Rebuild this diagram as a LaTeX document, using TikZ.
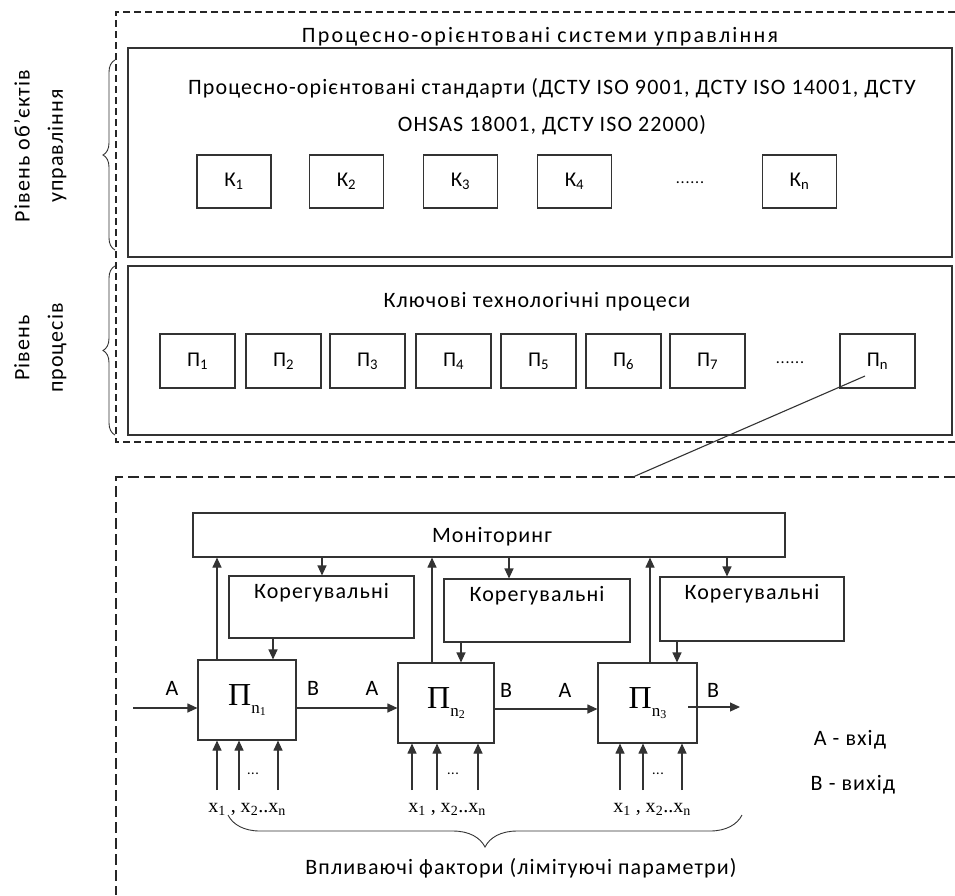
\documentclass[tikz,border=0pt]{standalone}
\usepackage{fontspec}
\setmainfont{Carlito}[LetterSpace=5]
\newfontfamily\titlefont{Carlito}[LetterSpace=10]
\newfontfamily\serifx{Liberation Serif}
\usetikzlibrary{arrows.meta,decorations.pathreplacing}
\tikzset{
  ln/.style={draw=black!80,line width=1.1pt},
  bx/.style={ln,rectangle,inner sep=0pt},
  dsh/.style={draw=black!85,line width=1.1pt,dash pattern=on 7pt off 4pt},
  dshb/.style={draw=black!85,line width=1.1pt,dash pattern=on 11pt off 5pt},
  arr/.style={ln,-{Triangle[length=10pt,width=9pt]}},
  txt/.style={font=\fontsize{22}{26}\selectfont,inner sep=0pt},
  brc/.style={ln,line width=0.9pt,decorate},
}
\newcommand{\bigP}[1]{{\serifx\fontsize{32}{34}\selectfont П\raisebox{-8pt}{\fontsize{17}{17}\selectfont n\raisebox{-2pt}{\fontsize{12}{12}\selectfont #1}}}}
\newcommand{\xlab}{x\textsubscript{1} , x\textsubscript{2}..x\textsubscript{n}}
\begin{document}
\begin{tikzpicture}[x=1pt,y=-1pt]
\useasboundingbox[fill=white] (0,0) rectangle (955,895);
% dashed frames
\draw[dsh] (955,12) -- (116,12) -- (116,442) -- (955,442);
\draw[dshb] (955,477) -- (116,477) -- (116,895);
\node[txt,font=\titlefont\fontsize{22}{26}\selectfont] (title) at (540,37) {Процесно-орієнтовані системи управління};
% level 1
\node[bx,minimum width=824pt,minimum height=209pt] (lvl1) at (540,152.5) {};
\node[txt] (std1) at (552,88) {Процесно-орієнтовані стандарти (ДСТУ ISO 9001, ДСТУ ISO 14001, ДСТУ};
\node[txt] (std2) at (552,125) {OHSAS 18001, ДСТУ ISO 22000)};
\tikzset{kb/.style={bx,minimum width=74pt,minimum height=53pt,font=\fontsize{21}{24}\selectfont}}
\node[kb] (k1) at (234,181.5) {К\textsubscript{1}\hspace{10pt}};
\node[kb] (k2) at (346.5,181.5) {К\textsubscript{2}\hspace{10pt}};
\node[kb] (k3) at (460.5,181.5) {К\textsubscript{3}\hspace{10pt}};
\node[kb] (k4) at (574.5,181.5) {К\textsubscript{4}\hspace{10pt}};
\node[txt,font=\fontsize{16}{18}\selectfont] (kdots) at (690,183) {......};
\node[kb] (kn) at (799.5,181.5) {К\textsubscript{n}\hspace{10pt}};
% level 2
\node[bx,minimum width=824pt,minimum height=169pt] (lvl2) at (540,350.5) {};
\node[txt] (ktp) at (537,302) {Ключові технологічні процеси};
\tikzset{pb/.style={bx,minimum width=75pt,minimum height=54pt,font=\fontsize{21}{24}\selectfont}}
\node[pb] (p1) at (197.5,361) {П\textsubscript{1}\hspace{10pt}};
\node[pb] (p2) at (283.5,361) {П\textsubscript{2}\hspace{10pt}};
\node[pb] (p3) at (367.5,361) {П\textsubscript{3}\hspace{10pt}};
\node[pb] (p4) at (453.5,361) {П\textsubscript{4}\hspace{10pt}};
\node[pb] (p5) at (538.5,361) {П\textsubscript{5}\hspace{10pt}};
\node[pb] (p6) at (623.5,361) {П\textsubscript{6}\hspace{10pt}};
\node[pb] (p7) at (707.5,361) {П\textsubscript{7}\hspace{10pt}};
\node[txt,font=\fontsize{16}{18}\selectfont] (pdots) at (790,363) {......};
\node[pb] (pn) at (877.5,361) {П\textsubscript{n}\hspace{10pt}};
\coordinate (pnin) at (865,376);
\coordinate (zoomend) at (633,477);
\draw[ln] (pnin) -- (zoomend);
% side labels and braces
\coordinate (b1t) at (115,60); \coordinate (b1b) at (115,250);
\coordinate (b2t) at (115,266); \coordinate (b2b) at (115,435);
\draw[brc,decoration={brace,amplitude=12pt}] (b1b) -- (b1t);
\draw[brc,decoration={brace,amplitude=12pt}] (b2b) -- (b2t);
\node[txt,rotate=90] (lab1a) at (22,146) {Рівень об’єктів};
\node[txt,rotate=90] (lab1b) at (57,146) {управління};
\node[txt,rotate=90] (lab2a) at (22,348) {Рівень};
\node[txt,rotate=90] (lab2b) at (57,348) {процесів};
% lower part
\node[bx,minimum width=592pt,minimum height=44pt] (mon) at (489,535) {};
\node[txt] (montxt) at (492,537) {Моніторинг};
\node[bx,minimum width=185pt,minimum height=62pt] (kor1) at (321.5,607) {};
\node[bx,minimum width=186pt,minimum height=63pt] (kor2) at (537,610.5) {};
\node[bx,minimum width=184pt,minimum height=64pt] (kor3) at (752,609) {};
\node[txt,anchor=north] (kor1t) at ([yshift=-8pt]kor1.north) {Корегувальні};
\node[txt,anchor=north] (kor2t) at ([yshift=-8pt]kor2.north) {Корегувальні};
\node[txt,anchor=north] (kor3t) at ([yshift=-8pt]kor3.north) {Корегувальні};
\tikzset{pnb/.style={bx,minimum height=80pt}}
\node[pnb,minimum width=98pt] (q1) at (247,700) {\bigP{1}};
\node[pnb,minimum width=96pt] (q2) at (446,703) {\bigP{2}};
\node[pnb,minimum width=99pt] (q3) at (647.5,703) {\bigP{3}};
% up arrows to monitoring
\coordinate (u1) at (217,660); \coordinate (u2) at (432,663); \coordinate (u3) at (650,663);
\draw[arr] (u1) -- (u1 |- mon.south);
\draw[arr] (u2) -- (u2 |- mon.south);
\draw[arr] (u3) -- (u3 |- mon.south);
% monitoring to correcting
\coordinate (d1) at (322,557); \coordinate (d2) at (509,557); \coordinate (d3) at (727,557);
\draw[arr] (d1) -- (d1 |- kor1.north);
\draw[arr] (d2) -- (d2 |- kor2.north);
\draw[arr] (d3) -- (d3 |- kor3.north);
% correcting to processes
\coordinate (c1) at (273,638); \coordinate (c2) at (461,642); \coordinate (c3) at (677,641);
\draw[arr] (c1) -- (c1 |- q1.north);
\draw[arr] (c2) -- (c2 |- q2.north);
\draw[arr] (c3) -- (c3 |- q3.north);
% horizontal flow
\coordinate (inA) at (133,708);
\coordinate (outB) at (688,707);
\coordinate (outE) at (740,707);
\draw[arr] (inA) -- (inA -| q1.west);
\coordinate (h1) at (296,708);
\draw[arr] (h1) -- (h1 -| q2.west);
\coordinate (h2) at (494,709);
\draw[arr] (h2) -- (h2 -| q3.west);
\draw[arr] (outB) -- (outE);
\node[txt] (la1) at (172,688) {A};
\node[txt] (lb1) at (313,688) {B};
\node[txt] (la2) at (372,688) {A};
\node[txt] (lb2) at (506,690) {B};
\node[txt] (la3) at (565,690) {A};
\node[txt] (lb3) at (713,690) {B};
% factor inputs
\foreach \n/\xa/\xb/\xc/\dx in {1/217/239/278/253, 2/412/437/478/453, 3/620/643/682/658}{
  \coordinate (f\n a) at (\xa,790);
  \coordinate (f\n b) at (\xb,790);
  \coordinate (f\n c) at (\xc,790);
  \draw[arr] (f\n a) -- (f\n a |- q\n.south);
  \draw[arr] (f\n b) -- (f\n b |- q\n.south);
  \draw[arr] (f\n c) -- (f\n c |- q\n.south);
  \node[txt,font=\fontsize{14}{16}\selectfont] (fd\n) at (\dx,774) {...};
}
\node[txt,font=\serifx\fontsize{20}{22}\selectfont] (x1) at (247,809) {\xlab};
\node[txt,font=\serifx\fontsize{20}{22}\selectfont] (x2) at (447,809) {\xlab};
\node[txt,font=\serifx\fontsize{20}{22}\selectfont] (x3) at (652,809) {\xlab};
\coordinate (brl) at (228,815); \coordinate (brr) at (742,815);
\draw[brc,decoration={brace,amplitude=32pt}] (brr) -- (brl);
\node[txt] (vf) at (521,868) {Впливаючі фактори (лімітуючі параметри)};
\node[txt] (lgA) at (850,740) {А - вхід};
\node[txt] (lgB) at (853,785) {В - вихід};
\end{tikzpicture}
\end{document}
